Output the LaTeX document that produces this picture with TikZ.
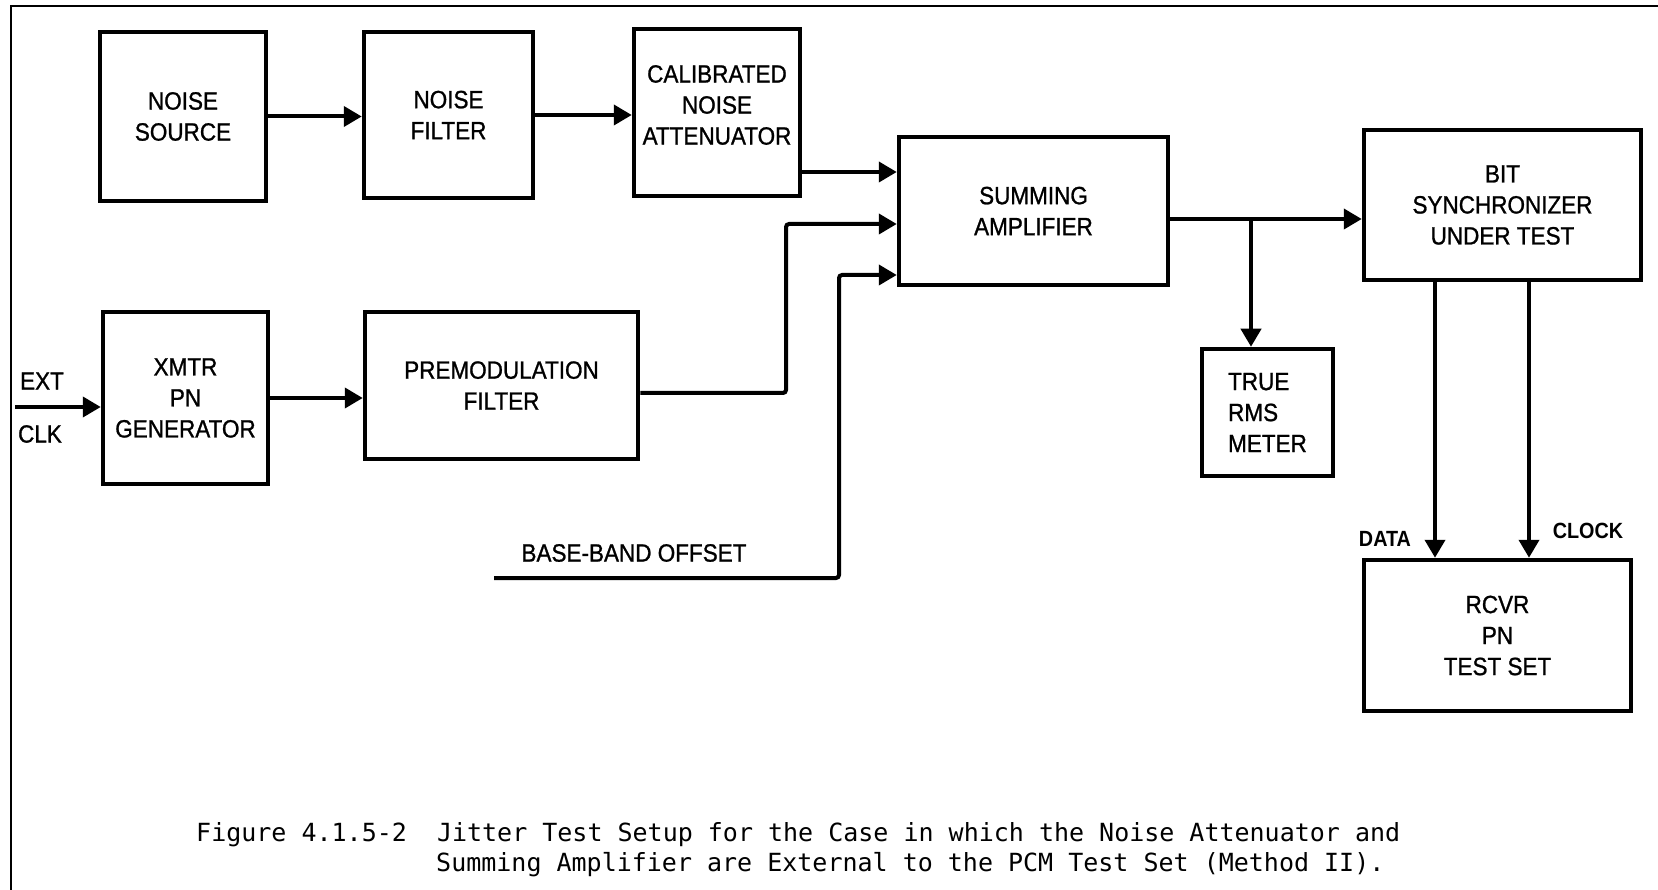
\documentclass[tikz,border=0pt]{standalone}
\usepackage{fontspec}
\setmainfont{Liberation Sans}[FakeStretch=0.9,FakeBold=1]
\newfontfamily\boldlbl{Liberation Sans Bold}[FakeStretch=0.9]
\newfontfamily\capfont{DejaVu Sans Mono}
\usetikzlibrary{arrows.meta}
\begin{document}
\begin{tikzpicture}[x=1pt,y=-1pt,
  blk/.style={draw,line width=4.5pt,inner sep=0pt,align=center,font=\fontsize{25}{31}\selectfont},
  arr/.style={line width=4pt,-{Triangle[length=18pt,width=20pt]}},
  lbl/.style={inner sep=0pt,font=\fontsize{25}{31}\selectfont},
  sml/.style={inner sep=0pt,font=\boldlbl\fontsize{22}{26}\selectfont},
  captxt/.style={inner sep=0pt,anchor=base west,font=\capfont\fontsize{25}{30}\selectfont}]
\useasboundingbox (0,0) rectangle (1658,890);
\draw[line width=2.5pt] (11,890) -- (11,6) -- (1658,6);

% blocks
\node[blk,minimum width=166pt,minimum height=169pt] (ns) at (183,116.5) {NOISE\\SOURCE};
\node[blk,minimum width=169pt,minimum height=166pt] (nf) at (448.5,115) {NOISE\\FILTER};
\node[blk,minimum width=166pt,minimum height=167pt] (cna) at (717,112.5) {};
\node[lbl,align=center] (cnat) at ([yshift=7.5pt]cna.center) {CALIBRATED\\NOISE\\ATTENUATOR};
\node[blk,minimum width=269pt,minimum height=148pt] (sa) at (1033.5,211) {SUMMING\\AMPLIFIER};
\node[blk,minimum width=277pt,minimum height=150pt] (bs) at (1502.5,205) {BIT\\SYNCHRONIZER\\UNDER TEST};
\node[blk,minimum width=131pt,minimum height=127pt,align=left] (trm) at (1267.5,412.5) {TRUE\\RMS\\METER};
\node[blk,minimum width=267pt,minimum height=151pt] (rcvr) at (1497.5,635.5) {RCVR\\PN\\TEST SET};
\node[blk,minimum width=165pt,minimum height=172pt] (xmtr) at (185.5,398) {XMTR\\PN\\GENERATOR};
\node[blk,minimum width=273pt,minimum height=147pt] (pf) at (501.5,385.5) {PREMODULATION\\FILTER};

% labels
\node[lbl] (ext) at (42,381) {EXT};
\node[lbl] (clk) at (40,434) {CLK};
\node[lbl] (bbo) at (634,553) {BASE-BAND OFFSET};
\node[sml] (data) at (1385,539) {DATA};
\node[sml] (clock) at (1588,531) {CLOCK};

% helper coordinates
\coordinate (c1) at (0,172);
\coordinate (c2) at (786,393);
\coordinate (c3) at (0,224);
\coordinate (bb0) at (494,578);
\coordinate (bb1) at (839,578);
\coordinate (c4) at (0,275);
\coordinate (c5) at (1251,219);
\coordinate (d) at (1435,0);
\coordinate (k) at (1529,0);
\coordinate (ec) at (15,407);

% connectors
\draw[arr] (ns.east) -- (ns.east -| nf.west);
\draw[arr] (nf.east) -- (nf.east -| cna.west);
\draw[arr] (cna.east |- c1) -- (sa.west |- c1);
\draw[arr,rounded corners=3pt] (pf.east |- c2) -- (c2) -- (c2 |- c3) -- (sa.west |- c3);
\draw[arr,rounded corners=3pt] (bb0) -- (bb1) -- (bb1 |- c4) -- (sa.west |- c4);
\draw[arr] (sa.east |- c5) -- (bs.west |- c5);
\draw[arr] (c5) -- (c5 |- trm.north);
\draw[arr] (bs.south -| d) -- (rcvr.north -| d);
\draw[arr] (bs.south -| k) -- (rcvr.north -| k);
\draw[arr] (xmtr.east) -- (xmtr.east -| pf.west);
\draw[arr] (ec) -- (ec -| xmtr.west);

% caption
\node[captxt] (cap1) at (196,841) {Figure 4.1.5-2\ \ Jitter Test Setup for the Case in which the Noise Attenuator and};
\node[captxt] (cap2) at (436,871) {Summing Amplifier are External to the PCM Test Set (Method II).};
\end{tikzpicture}
\end{document}
